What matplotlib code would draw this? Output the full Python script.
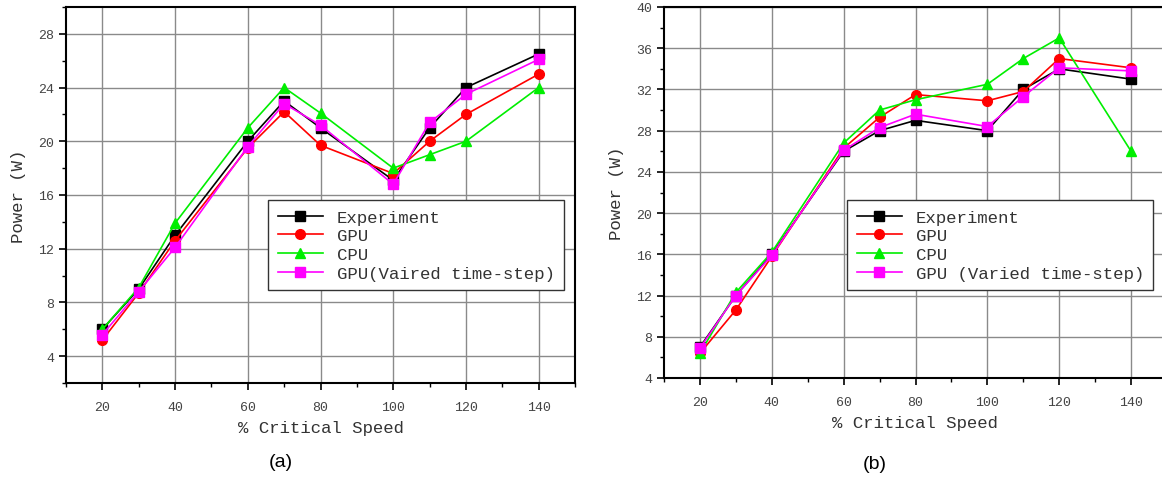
import matplotlib
matplotlib.use('Agg')
import matplotlib.pyplot as plt
from matplotlib.ticker import MultipleLocator

# % critical speed (shared by both panels)
SPEED = [20, 30, 40, 60, 70, 80, 100, 110, 120, 140]

# panel (a)
A_EXPERIMENT = [6.0, 9.0, 13.0, 20.0, 23.0, 21.0, 17.1, 21.0, 24.0, 26.5]
A_GPU        = [5.2, 8.7, 12.6, 19.5, 22.2, 19.7, 17.6, 20.0, 22.0, 25.0]
A_CPU        = [6.0, 9.1, 13.9, 21.0, 24.0, 22.1, 18.0, 19.0, 20.0, 24.0]
A_GPU_VAR    = [5.6, 8.8, 12.1, 19.6, 22.8, 21.2, 16.8, 21.4, 23.5, 26.1]

# panel (b)
B_EXPERIMENT = [7.0, 12.0, 16.0, 26.0, 28.0, 29.0, 28.0, 32.0, 34.0, 33.0]
B_GPU        = [6.4, 10.6, 15.8, 26.3, 29.3, 31.5, 30.9, 31.8, 35.0, 34.1]
B_CPU        = [6.4, 12.3, 16.2, 26.8, 30.0, 31.0, 32.5, 35.0, 37.0, 26.0]
B_GPU_VAR    = [6.9, 12.0, 15.9, 26.1, 28.3, 29.6, 28.4, 31.3, 34.1, 33.8]

A_LABELS = ['Experiment', 'GPU', 'CPU', 'GPU(Vaired time-step)']
B_LABELS = ['Experiment', 'GPU', 'CPU', 'GPU (Varied time-step)']

STYLES = [('black', 's'), ('#FF0000', 'o'), ('#00EE00', '^'), ('#FF00FF', 's')]
MONO = 'Liberation Mono'
TICK_COLOR = '#444444'

W, H = 1162, 481


def draw_panel(ax, series, labels, ylim, legend_xy, tag, tag_xy):
    for vals, lab, (col, mk) in zip(series, labels, STYLES):
        ax.plot(SPEED, vals, color=col, marker=mk, markersize=7,
                linewidth=1.2, label=lab, zorder=3)

    ax.set_xlim(10, 150)
    ax.set_ylim(*ylim)
    ax.xaxis.set_major_locator(MultipleLocator(20))
    ax.xaxis.set_minor_locator(MultipleLocator(10))
    ax.yaxis.set_major_locator(MultipleLocator(4))
    ax.yaxis.set_minor_locator(MultipleLocator(2))
    ax.grid(True, which='major', color='#8a8a8a', linewidth=1.0)

    ax.tick_params(which='major', direction='out', length=5, width=1.2,
                   labelsize=9.5, labelcolor=TICK_COLOR)
    ax.tick_params(axis='x', which='major', pad=8)
    ax.tick_params(which='minor', direction='out', length=3, width=1.0)
    for lbl in ax.get_xticklabels() + ax.get_yticklabels():
        lbl.set_family(MONO)
    for sp in ax.spines.values():
        sp.set_linewidth(1.5)
        sp.set_color('black')

    ax.set_xlabel('% Critical Speed', family=MONO, fontsize=12.5,
                  color='#333333', labelpad=5)
    ax.set_ylabel('Power (W)', family=MONO, fontsize=12.5,
                  color='#333333', labelpad=9)

    leg = ax.legend(loc='upper left',
                    bbox_to_anchor=(legend_xy[0] / W, 1 - legend_xy[1] / H),
                    bbox_transform=ax.figure.transFigure,
                    prop={'family': MONO, 'size': 12.5},
                    frameon=True, fancybox=False, framealpha=1,
                    edgecolor='#333333', borderpad=0.55, labelspacing=0.2,
                    handlelength=2.6, handletextpad=0.8, borderaxespad=0)
    leg.get_frame().set_linewidth(1.0)
    for t in leg.get_texts():
        t.set_color('#333333')

    ax.figure.text(tag_xy[0] / W, 1 - tag_xy[1] / H, tag,
                   family='Liberation Sans', fontsize=14,
                   ha='center', va='center')


fig = plt.figure(figsize=(W / 100, H / 100), dpi=100)

ax_a = fig.add_axes([66 / W, 1 - 384 / H, (575 - 66) / W, (384 - 8) / H])
ax_b = fig.add_axes([664 / W, 1 - 379 / H, (1167 - 664) / W, (379 - 8) / H])

draw_panel(ax_a, [A_EXPERIMENT, A_GPU, A_CPU, A_GPU_VAR], A_LABELS,
           (2, 30), (268, 201), '(a)', (281, 463))
draw_panel(ax_b, [B_EXPERIMENT, B_GPU, B_CPU, B_GPU_VAR], B_LABELS,
           (4, 40), (847, 201), '(b)', (875, 465))

fig.savefig('out.png', dpi=100)
plt.close(fig)
